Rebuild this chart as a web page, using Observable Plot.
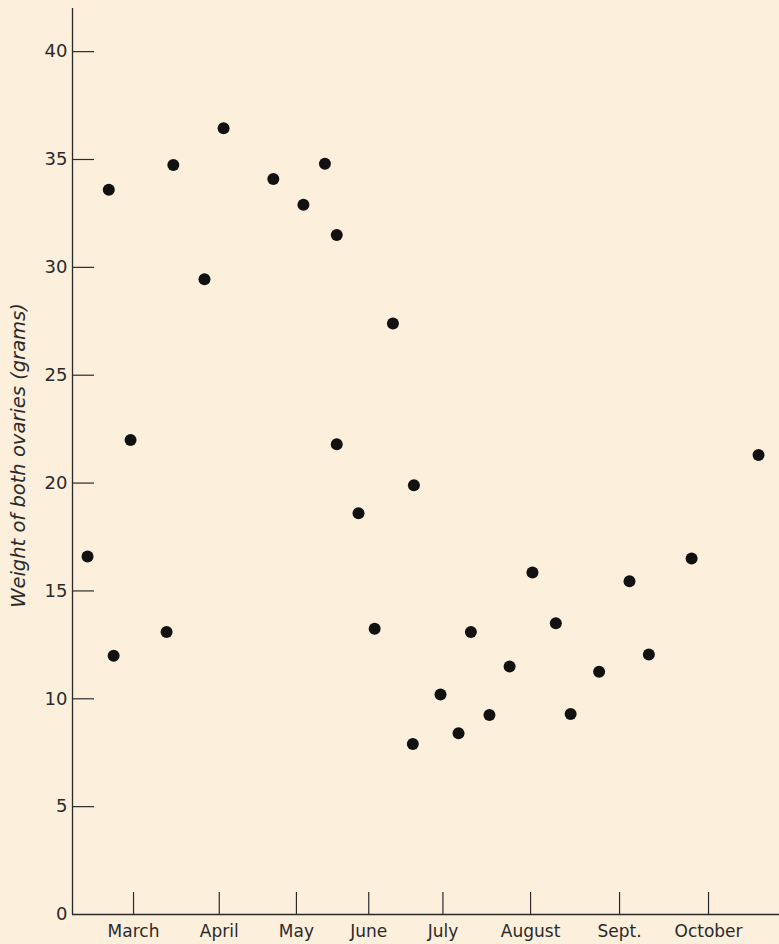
<!DOCTYPE html>
<html>
<head>
<meta charset="utf-8">
<script src="https://cdn.jsdelivr.net/npm/d3@7"></script>
<script src="https://cdn.jsdelivr.net/npm/@observablehq/plot@0.6"></script>
<style>
  html, body { margin: 0; padding: 0; background: #fcefdc; }
  #chart svg { display: block; }
</style>
</head>
<body>
<div id="chart"></div>
<script>
// Days since an arbitrary origin (~early February); month ticks irregular as drawn
const sampleDay = [5.6, 13.5, 15.3, 21.6, 35.0, 37.5, 49.1, 56.2, 74.7, 85.9, 93.9, 98.3, 98.3, 106.4, 112.4, 119.2, 127.0, 126.6, 136.9, 143.6, 148.2, 155.1, 162.6, 171.1, 179.8, 185.3, 195.9, 207.2, 214.4, 230.3, 255.2];
const ovaryWeight = [16.6, 33.6, 12.0, 22.0, 13.1, 34.75, 29.45, 36.45, 34.1, 32.9, 34.8, 31.5, 21.8, 18.6, 13.25, 27.4, 19.9, 7.9, 10.2, 8.4, 13.1, 9.25, 11.5, 15.85, 13.5, 9.3, 11.25, 15.45, 12.05, 16.5, 21.3];

const monthTickDay = [22.7, 54.6, 83.3, 110.2, 137.8, 170.4, 203.5, 236.6];
const monthLabels = ["March", "April", "May", "June", "July", "August", "Sept.", "October"];

const yTickValues = [0, 5, 10, 15, 20, 25, 30, 35, 40];
const yTickMarks = [5, 10, 15, 20, 25, 30, 35, 40];

const yLabel = "Weight of both ovaries (grams)";

const points = sampleDay.map((d, i) => ({day: d, weight: ovaryWeight[i]}));
const monthMap = new Map(monthTickDay.map((d, i) => [d, monthLabels[i]]));

const W = 779, H = 944;
const mL = 72, mR = 0, mT = 8, mB = 30;
const frameW = W - mL - mR, frameH = H - mT - mB;
const ink = "#2a2a2a";

const chart = Plot.plot({
  width: W,
  height: H,
  marginLeft: mL,
  marginRight: mR,
  marginTop: mT,
  marginBottom: mB,
  style: {background: "#fcefdc", fontFamily: "DejaVu Sans", color: ink, overflow: "visible"},
  x: {domain: [0, 263]},
  y: {domain: [0, 42]},
  marks: [
    Plot.axisY({ticks: yTickValues, tickSize: 0, tickPadding: 5, fontSize: 18, label: null, fill: ink}),
    Plot.axisX({ticks: monthTickDay, tickSize: 0, tickPadding: 10, fontSize: 17, label: null, fill: ink,
      tickFormat: d => monthMap.get(d)}),
    Plot.tickY(yTickMarks, {y: d => d, stroke: ink, strokeWidth: 1.2, insetRight: frameW - 22}),
    Plot.tickX(monthTickDay, {x: d => d, stroke: ink, strokeWidth: 1.2, insetTop: frameH - 22}),
    Plot.ruleX([0], {stroke: ink, strokeWidth: 1.3}),
    Plot.ruleY([0], {stroke: ink, strokeWidth: 1.3}),
    Plot.text([yLabel], {frameAnchor: "left", textAnchor: "middle", dx: -54, dy: -6, rotate: -90, fontSize: 19.5, fontStyle: "italic", fill: ink}),
    Plot.dot(points, {x: "day", y: "weight", r: 6, fill: "#111", stroke: "none"})
  ]
});
document.getElementById("chart").append(chart);
</script>
</body>
</html>
